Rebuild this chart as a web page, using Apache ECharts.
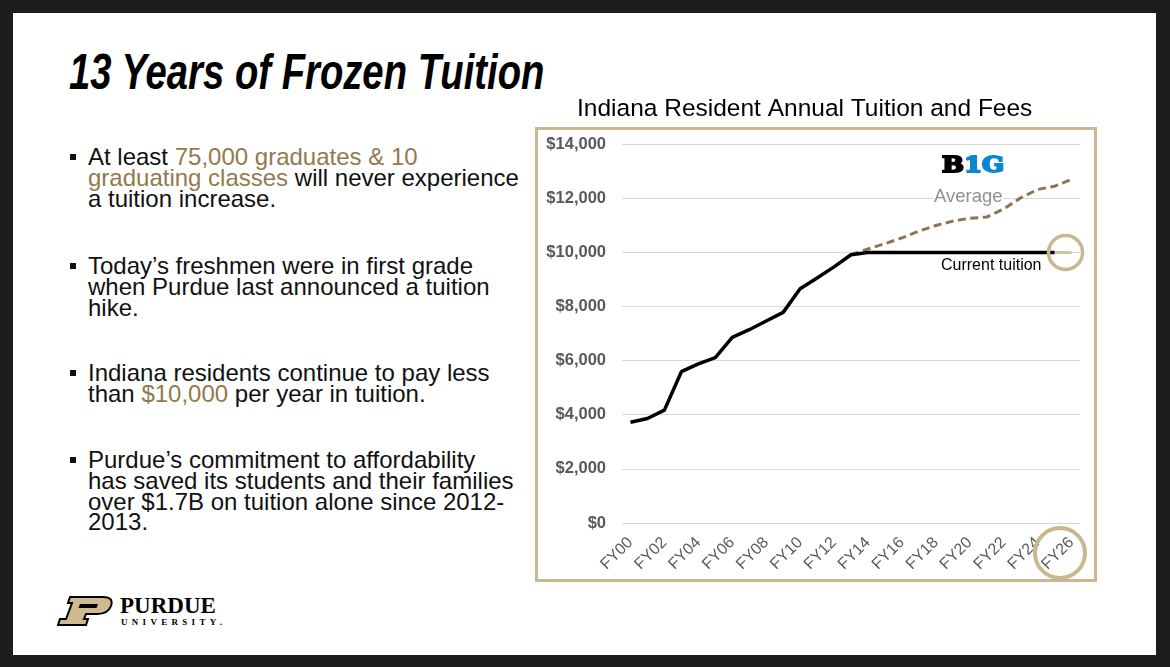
<!DOCTYPE html>
<html>
<head>
<meta charset="utf-8">
<title>13 Years of Frozen Tuition</title>
<script src="https://cdn.jsdelivr.net/npm/echarts@6/dist/echarts.min.js"></script>
<style>
body{margin:0;width:1170px;height:667px;background:#1c1c1c;overflow:hidden;font-family:"Liberation Sans",Arial,sans-serif;}
#slide{position:absolute;left:13px;top:13px;width:1143px;height:642px;background:#fff;}
#chart{position:absolute;left:0;top:0;width:1170px;height:667px;}
.h1{position:absolute;left:69px;top:47px;font-size:50px;line-height:50px;font-weight:bold;font-style:italic;color:#000;white-space:nowrap;transform:scaleX(0.765);transform-origin:0 0;}
.ln{position:absolute;left:88px;font-size:24px;line-height:24px;color:#111;white-space:nowrap;}
.gold{color:#927a4e;}
.sq{position:absolute;left:70px;width:6px;height:6px;background:#111;}
.logo{position:absolute;left:57px;top:596px;}
.pu{position:absolute;left:120px;top:594px;font-family:"Liberation Serif",serif;font-weight:bold;font-size:23px;line-height:23px;color:#000;}
.un{position:absolute;left:121px;top:618px;font-family:"Liberation Serif",serif;font-weight:bold;font-size:9px;line-height:9px;letter-spacing:4.3px;color:#000;}
</style>
</head>
<body>
<div id="slide"></div>

<div class="h1">13 Years of Frozen Tuition</div>

<div class="sq" style="top:154px"></div>
<div class="ln" style="top:145px">At least <span class="gold">75,000 graduates &amp; 10</span></div>
<div class="ln" style="top:166px"><span class="gold">graduating classes</span> will never experience</div>
<div class="ln" style="top:187px">a tuition increase.</div>

<div class="sq" style="top:263px"></div>
<div class="ln" style="top:254px">Today’s freshmen were in first grade</div>
<div class="ln" style="top:275px">when Purdue last announced a tuition</div>
<div class="ln" style="top:296px">hike.</div>

<div class="sq" style="top:370px"></div>
<div class="ln" style="top:361px">Indiana residents continue to pay less</div>
<div class="ln" style="top:382px">than <span class="gold">$10,000</span> per year in tuition.</div>

<div class="sq" style="top:457px"></div>
<div class="ln" style="top:448px">Purdue’s commitment to affordability</div>
<div class="ln" style="top:469px">has saved its students and their families</div>
<div class="ln" style="top:490px">over $1.7B on tuition alone since 2012-</div>
<div class="ln" style="top:510px">2013.</div>

<svg class="logo" width="58" height="32" viewBox="0 0 58 32">
  <path d="M13,1 L46,1 Q57,1 54,10 Q51,18 40,18 L29,18 L27,23 L31,23 L29,29 L1,29 L3,23 L9,23 L15,7 L11,7 Z" fill="#cfb991" stroke="#000" stroke-width="2"/>
  <path d="M23,8 L41,8 L39.5,12 L21.5,12 Z" fill="#000"/>
</svg>
<div class="pu">PURDUE</div>
<div class="un">UNIVERSITY.</div>

<div id="chart"></div>

<script>
var years = ['FY00', 'FY01', 'FY02', 'FY03', 'FY04', 'FY05', 'FY06', 'FY07', 'FY08', 'FY09',
    'FY10', 'FY11', 'FY12', 'FY13', 'FY14', 'FY15', 'FY16', 'FY17', 'FY18', 'FY19',
    'FY20', 'FY21', 'FY22', 'FY23', 'FY24', 'FY25', 'FY26'];
// Purdue resident tuition, frozen from FY14
var purdueTuition = [3720, 3860, 4170, 5590, 5880, 6110, 6860, 7140, 7460, 7780,
    8650, 9050, 9460, 9910, 9992, 9992, 9992, 9992, 9992, 9992,
    9992, 9992, 9992, 9992, 9992, 9992, null];
// last (tan) piece of the frozen line
var frozenEnd = [null, null, null, null, null, null, null, null, null, null,
    null, null, null, null, null, null, null, null, null, null,
    null, null, null, null, null, 9992, 9992];
// Big Ten average (dashed)
var bigTenAverage = [null, null, null, null, null, null, null, null, null, null,
    null, null, null, 9910, 10120, 10320, 10530, 10780, 10990, 11150,
    11260, 11300, 11600, 12010, 12320, 12440, 12690];

var gold = '#c9b88f';
var chart = echarts.init(document.getElementById('chart'), null, {renderer: 'canvas'});

var option = {
    backgroundColor: 'transparent',
    animation: false,
    title: {
        text: 'Indiana Resident Annual Tuition and Fees',
        left: 577,
        top: 95,
        padding: 0,
        textStyle: {
            fontFamily: 'Liberation Sans',
            fontSize: 24.5,
            lineHeight: 29,
            fontWeight: 'normal',
            color: '#000'
        }
    },
    grid: {left: 622, right: 90, top: 144, bottom: 144},
    xAxis: {
        type: 'category',
        data: years,
        boundaryGap: true,
        axisLine: {show: false},
        axisTick: {show: false},
        axisLabel: {
            interval: 1,
            rotate: 45,
            margin: 17,
            fontFamily: 'Liberation Sans',
            fontSize: 16,
            color: '#595959'
        }
    },
    yAxis: {
        type: 'value',
        min: 0,
        max: 14000,
        interval: 2000,
        axisLine: {show: false},
        axisTick: {show: false},
        splitLine: {lineStyle: {color: '#d9d9d9', width: 1}},
        axisLabel: {
            margin: 16,
            fontFamily: 'Liberation Sans',
            fontSize: 16.5,
            fontWeight: 'bold',
            color: '#595959',
            formatter: function (v) {
                return '$' + v.toLocaleString('en-US');
            }
        }
    },
    series: [
        {
            name: 'Big Ten Average',
            type: 'line',
            data: bigTenAverage,
            symbol: 'none',
            lineStyle: {color: '#8b7650', width: 3, type: [8, 4.5]},
            z: 2
        },
        {
            name: 'Frozen end',
            type: 'line',
            data: frozenEnd,
            symbol: 'none',
            lineStyle: {color: '#d4c5a1', width: 3},
            markPoint: {
                silent: true,
                symbol: 'circle',
                symbolSize: 34,
                symbolOffset: [-6, 0],
                label: {show: false},
                itemStyle: {color: 'rgba(255,255,255,0)', borderColor: gold, borderWidth: 3.5},
                data: [{coord: ['FY26', 9992]}]
            },
            z: 3
        },
        {
            name: 'Current tuition',
            type: 'line',
            data: purdueTuition,
            symbol: 'none',
            lineStyle: {color: '#000', width: 3.5},
            z: 4
        }
    ],
    graphic: [
        {
            type: 'rect',
            shape: {x: 536.5, y: 128.5, width: 559, height: 452},
            style: {fill: 'none', stroke: gold, lineWidth: 3},
            z: 1
        },
        {
            type: 'circle',
            shape: {cx: 1060, cy: 553, r: 25},
            style: {fill: 'none', stroke: gold, lineWidth: 4},
            z: 10
        },
        {
            type: 'text',
            x: 941, y: 266,
            style: {
                text: 'Current tuition',
                font: '16px "Liberation Sans"',
                fill: '#000',
                verticalAlign: 'middle'
            },
            z: 10
        },
        {
            type: 'text',
            x: 934, y: 197,
            style: {
                text: 'Average',
                font: '18.5px "Liberation Sans"',
                fill: '#909090',
                verticalAlign: 'middle',
                backgroundColor: '#fff'
            },
            z: 10
        },
        {
            type: 'text',
            x: 942, y: 166,
            scaleX: 1.18,
            style: {
                text: '{b|B}{g|1G}',
                verticalAlign: 'middle',
                rich: {
                    b: {font: 'bold 22px "DejaVu Serif"', fill: '#000', stroke: '#000', lineWidth: 2},
                    g: {font: 'bold 22px "DejaVu Serif"', fill: '#0a88cf', stroke: '#0a88cf', lineWidth: 2}
                }
            },
            z: 10
        }
    ]
};

chart.setOption(option);
</script>
</body>
</html>
